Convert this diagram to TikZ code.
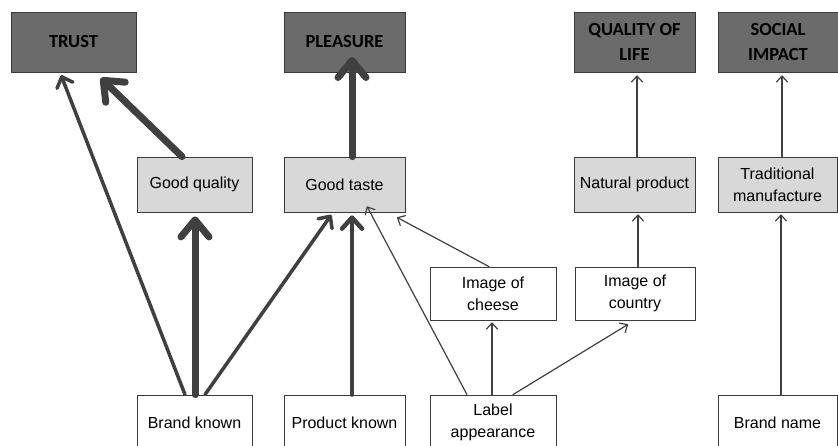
\documentclass[tikz,border=0pt]{standalone}
\usepackage{fontspec}
\setmainfont{Liberation Sans}
\newfontfamily\headfont{Carlito}
\usetikzlibrary{arrows.meta}
\definecolor{darkbox}{HTML}{6B6B6B}
\definecolor{lightbox}{HTML}{D8D8D8}
\definecolor{arrowcol}{HTML}{404040}
\definecolor{edgecol}{HTML}{3A3A3A}
\tikzset{
  box/.style={draw=edgecol, line width=0.8pt, inner sep=0pt, align=center,
    font=\fontsize{16}{22}\selectfont},
  headbox/.style={box, fill=darkbox, minimum height=60pt,
    font=\headfont\bfseries\fontsize{18.5}{25}\selectfont},
  midbox/.style={box, fill=lightbox, minimum height=55pt},
  lowbox/.style={box, fill=white, minimum height=53pt},
  botbox/.style={box, fill=white, minimum height=55pt},
  thinarr/.style={draw=arrowcol, line width=1.2pt, line cap=round,
    -{Straight Barb[length=6pt,width=11pt,round]}},
  medarr/.style={draw=arrowcol, line width=3.5pt, line cap=round,
    -{Straight Barb[length=9pt,width=17pt,round]}},
  midarr/.style={draw=arrowcol, line width=4.5pt, line cap=round,
    -{Straight Barb[length=11pt,width=20pt,round]}},
  thickarr/.style={draw=arrowcol, line width=7pt, line cap=round,
    -{Straight Barb[length=17pt,width=28pt,round]}},
}
\begin{document}
\begin{tikzpicture}[x=1pt,y=-1pt]
\clip (0,0) rectangle (838,446);
\fill[white] (0,0) rectangle (838,446);
% top row
\node[headbox, minimum width=125pt] (trust) at (73.5,42) {TRUST};
\node[headbox, minimum width=121pt] (pleasure) at (344.5,42) {PLEASURE};
\node[headbox, minimum width=121pt] (qol) at (634.5,42) {QUALITY OF\\LIFE};
\node[headbox, minimum width=120pt] (social) at (778,42) {SOCIAL\\IMPACT};
% middle row
\node[midbox, minimum width=115pt] (gq) at (194.5,184.5) {Good quality};
\node[midbox, minimum width=121pt] (gt) at (344.5,184.5) {Good taste};
\node[midbox, minimum width=121pt] (np) at (634.5,184.5) {Natural product};
\node[midbox, minimum width=119pt] (tm) at (777.5,184.5) {Traditional\\manufacture};
% lower row
\node[lowbox, minimum width=126pt] (ic) at (493,293.5) {Image of\\cheese};
\node[lowbox, minimum width=120pt] (icn) at (635,293.5) {Image of\\country};
% bottom row
\node[botbox, minimum width=115pt] (bk) at (194.5,422.5) {Brand known};
\node[botbox, minimum width=121pt] (pk) at (344.5,422.5) {Product known};
\node[botbox, minimum width=126pt] (la) at (493,422.5) {Label\\appearance};
\node[botbox, minimum width=119pt] (bn) at (777.5,422.5) {Brand name};
% connectors
\draw[medarr, shorten >=3pt] ([xshift=-9.5pt]bk.north) -- ([xshift=-13.5pt]trust.south);
\draw[thickarr, shorten >=8pt] ([xshift=-12.5pt]gq.north) -- ([xshift=21.5pt]trust.south);
\draw[thickarr, shorten >=4pt] ([xshift=0.5pt]bk.north) -- ([xshift=0.5pt]gq.south);
\draw[medarr, shorten >=3pt] ([xshift=10.5pt]bk.north) -- ([xshift=-11.5pt]pleasure.south |- gt.south);
\draw[midarr, shorten >=3pt] ([xshift=7.5pt]pk.north) -- ([xshift=7.5pt]gt.south);
\draw[thickarr] ([xshift=7.5pt]gt.north) -- ([xshift=7.5pt,yshift=-15pt]pleasure.center);
\draw[thinarr] ([xshift=-26pt]la.north) -- ([xshift=22.5pt,yshift=6pt]gt.south);
\draw[thinarr] ([xshift=-4pt]ic.north) -- ([xshift=52.5pt,yshift=-5pt]gt.south);
\draw[thinarr, shorten >=2pt] ([xshift=-1pt]la.north) -- ([xshift=-1pt]ic.south);
\draw[thinarr] ([xshift=20pt]la.north) -- ([xshift=-7pt,yshift=-4pt]icn.south);
\draw[thinarr, shorten >=2pt] ([xshift=3pt]icn.north) -- ([xshift=3.5pt]np.south);
\draw[thinarr, shorten >=3pt] ([xshift=2.5pt]np.north) -- ([xshift=2.5pt]qol.south);
\draw[thinarr, shorten >=2pt] ([xshift=3.5pt]bn.north) -- ([xshift=3.5pt]tm.south);
\draw[thinarr, shorten >=3pt] ([xshift=4.5pt]tm.north) -- ([xshift=4pt]social.south);
\end{tikzpicture}
\end{document}
